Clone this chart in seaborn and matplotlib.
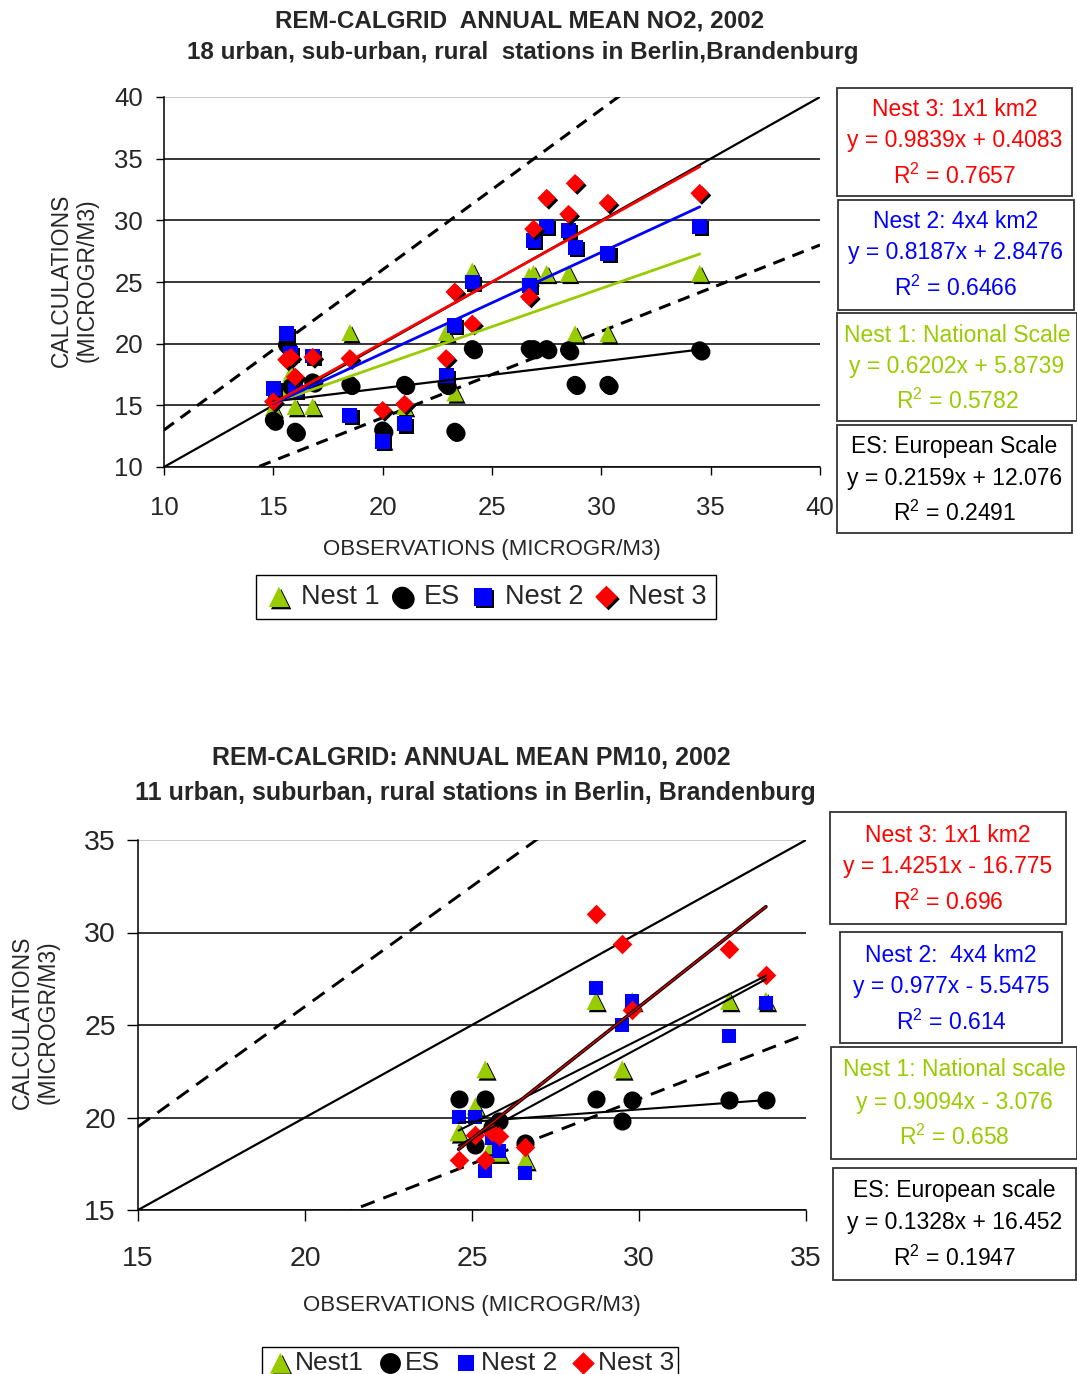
import numpy as np
import pandas as pd
import seaborn as sns
import matplotlib.pyplot as plt
import matplotlib.patheffects as pe
from matplotlib.patches import Rectangle

# --- NO2 2002, 18 stations (microgr/m3) ---
no2_obs   = [15.0, 15.6, 15.8, 16.0, 16.8, 18.5, 20.0, 21.0, 22.9, 23.3, 24.1, 26.7, 26.9, 27.5, 28.5, 28.8, 30.3, 34.5]
no2_nest1 = [14.8, 16.4, 17.6, 14.9, 14.9, 20.9, 12.2, 14.9, 20.9, 16.0, 25.9, 25.5, 25.7, 25.7, 25.7, 20.8, 20.8, 25.7]
no2_es    = [13.8, 19.9, 16.5, 12.9, 16.9, 16.7, 13.0, 16.7, 16.7, 12.9, 19.6, 19.6, 19.6, 19.6, 19.5, 16.7, 16.7, 19.5]
no2_nest2 = [16.4, 20.8, 19.2, 16.2, 19.0, 14.2, 12.1, 13.5, 17.4, 21.5, 25.0, 24.7, 28.4, 29.5, 29.2, 27.8, 27.3, 29.5]
no2_nest3 = [15.3, 18.7, 18.9, 17.3, 18.9, 18.8, 14.6, 15.1, 18.8, 24.2, 21.6, 23.8, 29.3, 31.8, 30.5, 33.0, 31.4, 32.2]

# trend lines as printed in the boxes (order: Nest 1, ES, Nest 2, Nest 3)
no2_slope = [0.6202, 0.2159, 0.8187, 0.9839]
no2_icpt  = [5.8739, 12.076, 2.8476, 0.4083]
no2_r2    = [0.5782, 0.2491, 0.6466, 0.7657]
no2_box_titles = ['Nest 1: National Scale', 'ES: European Scale', 'Nest 2: 4x4 km2', 'Nest 3: 1x1 km2']
no2_legend = ['Nest 1', 'ES', 'Nest 2', 'Nest 3']

# --- PM10 2002, 11 stations ---
pm_obs   = [24.6, 25.1, 25.4, 25.6, 25.8, 26.6, 28.7, 29.5, 29.8, 32.7, 33.8]
pm_nest1 = [19.2, 20.6, 22.6, 18.5, 18.1, 17.7, 26.3, 22.6, 26.3, 26.3, 26.3]
pm_es    = [21.0, 18.5, 21.0, 19.5, 19.8, 18.6, 21.0, 19.8, 20.95, 20.95, 20.95]
pm_nest2 = [20.05, 20.05, 17.1, 18.9, 18.2, 17.0, 27.0, 25.0, 26.3, 24.4, 26.2]
pm_nest3 = [17.7, 19.05, 17.7, 19.2, 19.0, 18.4, 31.0, 29.4, 25.8, 29.1, 27.7]

pm_slope = [0.9094, 0.1328, 0.977, 1.4251]
pm_icpt  = [-3.076, 16.452, -5.5475, -16.775]
pm_r2    = [0.658, 0.1947, 0.614, 0.696]
pm_box_titles = ['Nest 1: National scale', 'ES: European scale', 'Nest 2:  4x4 km2', 'Nest 3: 1x1 km2']
pm_legend = ['Nest1', 'ES', 'Nest 2', 'Nest 3']

# 1:1 line and +-30% lines
ref_factor = [1.0, 1.3, 0.7]

colors  = ['#99CC00', 'black', '#0000FF', '#FF0000']
markers = ['^', 'o', 's', 'D']

sns.set_theme(style='ticks')
plt.rcParams['font.family'] = ['Liberation Sans', 'DejaVu Sans']
plt.rcParams['mathtext.default'] = 'regular'

W, H = 1077, 1374
fig = plt.figure(figsize=(W / 100, H / 100), dpi=100)


def fig_xy(px, py):
    return px / W, 1 - py / H


def stat_box(left, top, width, height, color, lines, offs, fs):
    fig.add_artist(Rectangle(fig_xy(left, top + height), width / W, height / H,
                             transform=fig.transFigure, fill=False,
                             edgecolor='#333333', lw=1.3))
    for txt, dy in zip(lines, offs):
        fig.text(*fig_xy(left + width / 2, top + dy), txt, color=color,
                 ha='center', va='center', fontsize=fs)


def eq_text(s, b):
    sign = '+' if b >= 0 else '-'
    return f'y = {s:g}x {sign} {abs(b):g}'


shadow = [pe.SimplePatchShadow(offset=(1.6, -1.6), shadow_rgbFace='black', alpha=1), pe.Normal()]

# ================= top chart: NO2 =================
ax1 = fig.add_axes([164 / W, 1 - 467 / H, 656 / W, 370 / H])
series = [no2_nest1, no2_es, no2_nest2, no2_nest3]
sizes = [150, 150, 115, 90]
for vals, c, m, s, lab in zip(series, colors, markers, sizes, no2_legend):
    sns.scatterplot(x=no2_obs, y=vals, marker=m, color=c, s=s, linewidth=0,
                    ax=ax1, zorder=3, label=lab, path_effects=shadow)

rx = [10, 40]
for f in ref_factor:
    ls = '-' if f == 1.0 else (0, (4, 2.7))
    sns.lineplot(x=rx, y=[v * f for v in rx], color='black', lw=1.6 if f == 1.0 else 2.2,
                 linestyle=ls, ax=ax1, zorder=2)

tx = [min(no2_obs), max(no2_obs)]
for s, b, c in zip(no2_slope, no2_icpt, colors):
    sns.lineplot(x=tx, y=[s * v + b for v in tx], color=c, lw=2 if c != 'black' else 1.6,
                 ax=ax1, zorder=4)

ax1.set_xlim(10, 40)
ax1.set_ylim(10, 40)
ax1.set_xticks(range(10, 41, 5))
ax1.set_yticks(range(10, 41, 5))
ax1.yaxis.grid(True, color='black', lw=1.1)
ax1.yaxis.get_gridlines()[-1].set_color('#bbbbbb')
ax1.tick_params(labelsize=18.5, length=6, width=1, color='black')
ax1.tick_params(axis='x', pad=15)
ax1.tick_params(axis='y', pad=9)
sns.despine(ax=ax1)
for sp in ['left', 'bottom']:
    ax1.spines[sp].set_color('black')
    ax1.spines[sp].set_linewidth(1.1)
ax1.set_xlabel('')
ax1.set_ylabel('')
ax1.legend(loc='center', bbox_to_anchor=fig_xy(486, 597), bbox_transform=fig.transFigure,
           ncol=4, fontsize=19.5, frameon=True, fancybox=False, edgecolor='black',
           framealpha=1, handletextpad=0.3, columnspacing=0.35, borderpad=0.35,
           handlelength=1.0, markerscale=1.2)

fig.text(*fig_xy(520, 21), 'REM-CALGRID  ANNUAL MEAN NO2, 2002', ha='center', va='center',
         fontsize=17.5, fontweight='bold')
fig.text(*fig_xy(523, 53), '18 urban, sub-urban, rural  stations in Berlin,Brandenburg',
         ha='center', va='center', fontsize=17.5, fontweight='bold')
fig.text(*fig_xy(492, 550), 'OBSERVATIONS (MICROGR/M3)', ha='center', va='center', fontsize=16)
fig.text(*fig_xy(74, 280), 'CALCULATIONS\n(MICROGR/M3)', ha='center', va='center',
         rotation=90, fontsize=16.5, linespacing=1.15)

no2_boxes = [(837, 313, 240, 108), (837, 425, 235, 108), (838, 200, 236, 110), (837, 88, 235, 108)]
for (l, t, w, h), c, ttl, s, b, r2 in zip(no2_boxes, colors, no2_box_titles, no2_slope, no2_icpt, no2_r2):
    stat_box(l, t, w, h, c, [ttl, eq_text(s, b), f'R$^2$ = {r2:g}'], (22, 53, 88), 16.5)

# ================= bottom chart: PM10 =================
ax2 = fig.add_axes([138 / W, 1 - 1210 / H, 668 / W, 370 / H])
series = [pm_nest1, pm_es, pm_nest2, pm_nest3]
sizes = [170, 170, 105, 100]
for vals, c, m, s, lab in zip(series, colors, markers, sizes, pm_legend):
    pe_list = shadow if m == '^' else None
    sns.scatterplot(x=pm_obs, y=vals, marker=m, color=c, s=s, linewidth=0,
                    ax=ax2, zorder=3, label=lab, path_effects=pe_list)

rx = [15, 35]
for f in ref_factor:
    ls = '-' if f == 1.0 else (0, (5, 3.2))
    sns.lineplot(x=rx, y=[v * f for v in rx], color='black', lw=1.6 if f == 1.0 else 2.1,
                 linestyle=ls, ax=ax2, zorder=2)

tx = [min(pm_obs), max(pm_obs)]
for s, b, c in zip(pm_slope, pm_icpt, colors):
    ty = [s * v + b for v in tx]
    if c == '#FF0000':
        sns.lineplot(x=tx, y=ty, color='black', lw=2.6, ax=ax2, zorder=4)
        sns.lineplot(x=tx, y=ty, color='#DD0000', lw=1.0, ax=ax2, zorder=5)
    else:
        sns.lineplot(x=tx, y=ty, color='black', lw=1.5, ax=ax2, zorder=4)

ax2.set_xlim(15, 35)
ax2.set_ylim(15, 35)
ax2.set_xticks(range(15, 36, 5))
ax2.set_yticks(range(15, 36, 5))
ax2.yaxis.grid(True, color='black', lw=1.1)
ax2.yaxis.get_gridlines()[-1].set_color('#bbbbbb')
ax2.tick_params(labelsize=20.5, length=8, width=1, color='black')
ax2.tick_params(axis='x', pad=18)
ax2.tick_params(axis='y', pad=8)
sns.despine(ax=ax2)
for sp in ['left', 'bottom']:
    ax2.spines[sp].set_color('black')
    ax2.spines[sp].set_linewidth(1.1)
ax2.set_xlabel('')
ax2.set_ylabel('')
ax2.legend(loc='upper center', bbox_to_anchor=fig_xy(470, 1334), bbox_transform=fig.transFigure,
           ncol=4, fontsize=19, frameon=True, fancybox=False, edgecolor='black',
           framealpha=1, handletextpad=0.0, columnspacing=0.45, borderpad=0.15,
           handlelength=1.1, markerscale=1.15)

fig.text(*fig_xy(471, 758), 'REM-CALGRID: ANNUAL MEAN PM10, 2002', ha='center', va='center',
         fontsize=18, fontweight='bold')
fig.text(*fig_xy(475, 793), '11 urban, suburban, rural stations in Berlin, Brandenburg',
         ha='center', va='center', fontsize=18, fontweight='bold')
fig.text(*fig_xy(472, 1306), 'OBSERVATIONS (MICROGR/M3)', ha='center', va='center', fontsize=16)
fig.text(*fig_xy(35, 1022), 'CALCULATIONS\n(MICROGR/M3)', ha='center', va='center',
         rotation=90, fontsize=16.5, linespacing=1.15)

pm_boxes = [(831, 1047, 246, 112), (833, 1168, 243, 112), (840, 932, 222, 111), (830, 812, 236, 112)]
for (l, t, w, h), c, ttl, s, b, r2 in zip(pm_boxes, colors, pm_box_titles, pm_slope, pm_icpt, pm_r2):
    stat_box(l, t, w, h, c, [ttl, eq_text(s, b), f'R$^2$ = {r2:g}'], (23, 55, 90), 16.5)

fig.savefig('out.png', dpi=100)
